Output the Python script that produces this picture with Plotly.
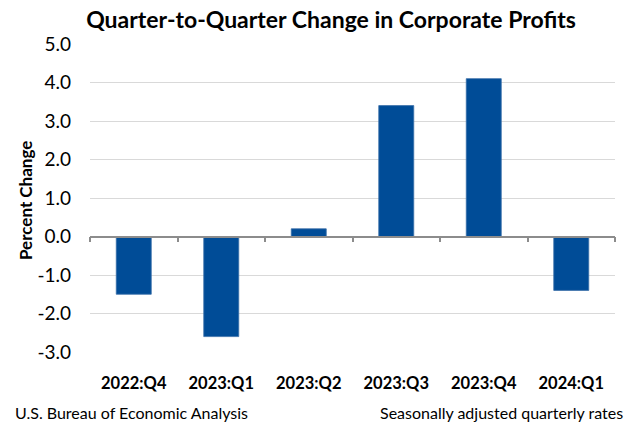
import plotly.graph_objects as go

categories = ["2022:Q4", "2023:Q1", "2023:Q2", "2023:Q3", "2023:Q4", "2024:Q1"]
values = [-1.5, -2.6, 0.2, 3.4, 4.1, -1.4]
y_ticks = [-3, -2, -1, 0, 1, 2, 3, 4, 5]
y_tick_labels = ["-3.0", "-2.0", "-1.0", "0.0", "1.0", "2.0", "3.0", "4.0", "5.0"]

FONT = "Lato"
BAR = "#004C97"

fig = go.Figure()
fig.add_trace(go.Bar(
    x=categories, y=values, xaxis="x", yaxis="y",
    marker=dict(color=BAR, line=dict(color="#3a6ea8", width=0.8)),
    width=0.4, hoverinfo="x+y",
))
# invisible trace to carry category labels on bottom axis
fig.add_trace(go.Scatter(
    x=categories, y=values, xaxis="x2", yaxis="y",
    mode="markers", marker=dict(opacity=0), hoverinfo="skip", showlegend=False,
))

fig.update_layout(
    width=641, height=443,
    margin=dict(l=90, r=26, t=44, b=91),
    paper_bgcolor="white", plot_bgcolor="white",
    showlegend=False,
    font=dict(family=FONT, color="black"),
    title=dict(
        text="<b>Quarter-to-Quarter Change in Corporate Profits</b>",
        x=331 / 641, xref="container", xanchor="center",
        y=1 - 20 / 443, yref="container", yanchor="middle",
        font=dict(family=FONT, size=23, color="black"),
    ),
    xaxis=dict(
        type="category", range=[-0.5, 5.5],
        anchor="free", position=3 / 8,
        showline=True, linecolor="#8c8c8c", linewidth=1.5,
        ticks="outside", tickson="boundaries", ticklen=5, tickcolor="#8c8c8c", tickwidth=1.5,
        showticklabels=False, showgrid=False, zeroline=False, fixedrange=True,
    ),
    xaxis2=dict(
        type="category", range=[-0.5, 5.5], overlaying="x", anchor="y", side="bottom",
        showline=False, ticks="", showgrid=False, zeroline=False,
        tickfont=dict(family=FONT, size=16.5, color="black"),
        ticklabelstandoff=19,
        tickvals=categories, ticktext=["<b>%s</b>" % c for c in categories],
    ),
    yaxis=dict(
        range=[-3, 5], tickvals=y_ticks, ticktext=y_tick_labels,
        showgrid=True, gridcolor="#d9d9d9", gridwidth=1.3,
        zeroline=False, showline=False, ticks="",
        tickfont=dict(family=FONT, size=19, color="black"),
        ticklabelstandoff=18,
    ),
    annotations=[
        dict(text="<b>Percent Change</b>", textangle=-90, xref="paper", yref="paper",
             x=(25 - 90) / 525, y=(352 - 201) / 308, xanchor="center", yanchor="middle",
             showarrow=False, font=dict(family=FONT, size=17, color="black")),
        dict(text="U.S. Bureau of Economic Analysis", xref="paper", yref="paper",
             x=(13 - 90) / 525, y=(352 - 412) / 308, xanchor="left", yanchor="middle",
             showarrow=False, font=dict(family=FONT, size=16, color="black")),
        dict(text="Seasonally adjusted quarterly rates", xref="paper", yref="paper",
             x=(625 - 90) / 525, y=(352 - 412) / 308, xanchor="right", yanchor="middle",
             showarrow=False, font=dict(family=FONT, size=16, color="black")),
    ],
)

fig.write_html("out.html", config={"displayModeBar": False},
               post_script="document.body.style.margin='0';")
